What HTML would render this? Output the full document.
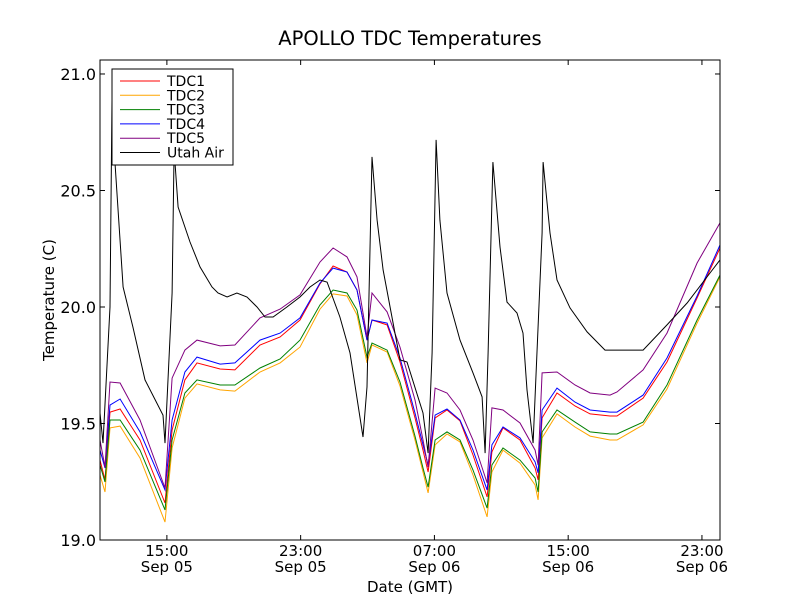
<!DOCTYPE html>
<html><head><meta charset="utf-8"><title>APOLLO TDC Temperatures</title>
<style>
html,body{margin:0;padding:0;background:#fff;}
svg{display:block;font-family:"DejaVu Sans","Liberation Sans",sans-serif;}
</style></head>
<body>
<svg id="chart" width="800" height="600" viewBox="0 0 800 600" xmlns="http://www.w3.org/2000/svg">
<rect x="0" y="0" width="800" height="600" fill="#fff"/>
<text x="410" y="45" font-size="19.5" text-anchor="middle">APOLLO TDC Temperatures</text>
<text x="54" y="300" font-size="15" text-anchor="middle" transform="rotate(-90 54 300)">Temperature (C)</text>
<text x="410" y="592" font-size="15" text-anchor="middle">Date (GMT)</text>
<g id="series"></g>
<rect x="100" y="60" width="620" height="480" fill="none" stroke="#000" stroke-width="1"/>
<g id="ticks"></g>
<g id="legend"></g>
</svg>
<script>
// hours since Sep 05 11:00 GMT
const tdcTimes = [0,0.30,0.60,1.20,2.39,3.89,4.31,5.08,5.80,7.18,8.07,9.57,10.77,11.96,13.16,13.94,14.77,15.37,15.97,16.27,17.17,17.94,18.84,19.32,19.62,20.04,20.75,21.53,22.31,23.15,23.44,24.10,25.12,26.02,26.20,26.44,27.33,28.41,29.31,30.50,30.92,32.48,33.91,35.71,37.08];
const tdc1Values = [19.343,19.258,19.549,19.562,19.429,19.159,19.472,19.687,19.760,19.734,19.730,19.837,19.871,19.944,20.099,20.176,20.150,20.073,19.858,19.944,19.923,19.764,19.524,19.386,19.292,19.524,19.558,19.511,19.365,19.185,19.378,19.481,19.429,19.309,19.258,19.524,19.631,19.575,19.541,19.532,19.532,19.609,19.764,20.039,20.253];
const tdc2Values = [19.279,19.206,19.481,19.489,19.352,19.077,19.395,19.609,19.670,19.644,19.639,19.721,19.760,19.828,19.991,20.056,20.047,19.966,19.760,19.837,19.807,19.661,19.429,19.292,19.202,19.408,19.455,19.421,19.279,19.099,19.292,19.386,19.330,19.236,19.172,19.438,19.541,19.485,19.446,19.429,19.429,19.494,19.648,19.931,20.129];
const tdc3Values = [19.322,19.249,19.515,19.515,19.386,19.129,19.429,19.631,19.687,19.665,19.665,19.738,19.777,19.858,20.009,20.073,20.060,19.987,19.785,19.845,19.815,19.678,19.446,19.309,19.227,19.429,19.464,19.429,19.300,19.137,19.322,19.395,19.343,19.266,19.206,19.464,19.558,19.506,19.464,19.455,19.455,19.506,19.665,19.944,20.137];
const tdc4Values = [19.386,19.309,19.579,19.605,19.464,19.215,19.515,19.721,19.785,19.755,19.760,19.858,19.888,19.953,20.103,20.167,20.150,20.073,19.858,19.944,19.931,19.781,19.545,19.408,19.322,19.536,19.562,19.515,19.386,19.215,19.408,19.485,19.438,19.335,19.288,19.558,19.652,19.592,19.558,19.549,19.549,19.622,19.781,20.047,20.266];
const tdc5Values = [19.429,19.313,19.678,19.674,19.515,19.223,19.695,19.815,19.858,19.833,19.837,19.953,19.991,20.052,20.193,20.253,20.215,20.129,19.871,20.060,19.979,19.828,19.601,19.429,19.313,19.652,19.631,19.558,19.429,19.245,19.567,19.558,19.502,19.386,19.322,19.717,19.721,19.665,19.631,19.622,19.635,19.730,19.888,20.189,20.361];
const airTimes = [0,0.18,0.60,0.72,0.90,1.38,1.97,2.69,3.77,3.89,4.31,4.43,4.67,5.38,5.98,6.70,7.06,7.60,8.19,8.79,9.39,9.87,10.35,11.18,11.96,12.56,13.16,13.58,14.35,14.95,15.73,15.97,16.27,16.57,16.93,17.94,18.36,19.32,19.62,19.86,20.10,20.33,20.75,21.53,22.31,22.85,23.03,23.21,23.50,23.92,24.34,24.94,25.12,25.30,25.54,25.90,26.44,26.50,26.91,27.33,28.11,29.13,30.20,32.48,33.91,35.11,36.48,37.08];
const airValues = [19.545,19.416,20.0,20.888,20.618,20.086,19.914,19.687,19.536,19.416,20.060,20.674,20.429,20.279,20.172,20.086,20.060,20.043,20.060,20.043,20.0,19.957,19.957,20.0,20.043,20.086,20.116,20.107,19.957,19.803,19.442,19.657,20.644,20.373,20.159,19.773,19.764,19.545,19.373,19.803,20.717,20.373,20.060,19.858,19.717,19.614,19.373,19.803,20.622,20.258,20.021,19.974,19.931,19.888,19.644,19.416,20.318,20.622,20.318,20.116,19.996,19.893,19.815,19.815,19.923,20.017,20.146,20.202];
const seriesNames = ["TDC1","TDC2","TDC3","TDC4","TDC5","Utah Air"];
const yTicks = [19.0,19.5,20.0,20.5,21.0];
const xTicks = [4,12,20,28,36];
const xTickTime = ["15:00","23:00","07:00","15:00","23:00"];
const xTickDate = ["Sep 05","Sep 05","Sep 06","Sep 06","Sep 06"];

const NS="http://www.w3.org/2000/svg";
const X0=100,X1=720,Y0=540,Y1=60,HMAX=37.08,VMIN=19.0,VMAX=21.06;
function xs(h){return X0+(h/HMAX)*(X1-X0);}
function ys(v){return Y0-(v-VMIN)/(VMAX-VMIN)*(Y0-Y1);}
function mk(tag,attrs){const e=document.createElementNS(NS,tag);for(const k in attrs)e.setAttribute(k,attrs[k]);return e;}

const colors=["#ff0000","#ffa500","#008000","#0000ff","#800080","#000000"];
const sets=[[tdcTimes,tdc1Values],[tdcTimes,tdc2Values],[tdcTimes,tdc3Values],[tdcTimes,tdc4Values],[tdcTimes,tdc5Values],[airTimes,airValues]];
const g=document.getElementById("series");
const clip=mk("clipPath",{id:"pc"});clip.appendChild(mk("rect",{x:X0,y:Y1,width:X1-X0,height:Y0-Y1}));
document.getElementById("chart").appendChild(clip);
g.setAttribute("clip-path","url(#pc)");
sets.forEach((s,i)=>{
  const d=s[0].map((t,j)=>(j?"L":"M")+xs(t).toFixed(1)+" "+ys(s[1][j]).toFixed(1)).join(" ");
  const p=mk("path",{d:d,fill:"none",stroke:colors[i],"stroke-width":"1"});
  
  
  g.appendChild(p);
});
const tk=document.getElementById("ticks");
yTicks.forEach(v=>{
  const y=ys(v);
  tk.appendChild(mk("line",{x1:X0,y1:y,x2:X0+5,y2:y,stroke:"#000"}));
  tk.appendChild(mk("line",{x1:X1,y1:y,x2:X1-5,y2:y,stroke:"#000"}));
  const t=mk("text",{x:X0-4,y:y+6,"font-size":"16","text-anchor":"end"});
  t.textContent=v.toFixed(1);
  
  
  tk.appendChild(t);
});
xTicks.forEach((h,i)=>{
  const x=xs(h);
  tk.appendChild(mk("line",{x1:x,y1:Y0,x2:x,y2:Y0-5,stroke:"#000"}));
  tk.appendChild(mk("line",{x1:x,y1:Y1,x2:x,y2:Y1+5,stroke:"#000"}));
  const t=mk("text",{x:x,y:556,"font-size":"15","text-anchor":"middle"});
  t.textContent=xTickTime[i];
  
  
  tk.appendChild(t);
  const t2=mk("text",{x:x,y:572,"font-size":"15","text-anchor":"middle"});
  t2.textContent=xTickDate[i];
  
  
  tk.appendChild(t2);
});
const lg=document.getElementById("legend");
lg.appendChild(mk("rect",{x:112,y:69,width:121,height:96,fill:"#fff",stroke:"#000","stroke-width":"1"}));
seriesNames.forEach((n,i)=>{
  const y=81+i*14.3;
  const e=mk("g",{});
  
  
  e.appendChild(mk("line",{x1:120,y1:y,x2:160,y2:y,stroke:colors[i],"stroke-width":"1"}));
  const t=mk("text",{x:167,y:y+5,"font-size":"14"});
  t.textContent=n;
  e.appendChild(t);
  lg.appendChild(e);
});
</script>
</body></html>
